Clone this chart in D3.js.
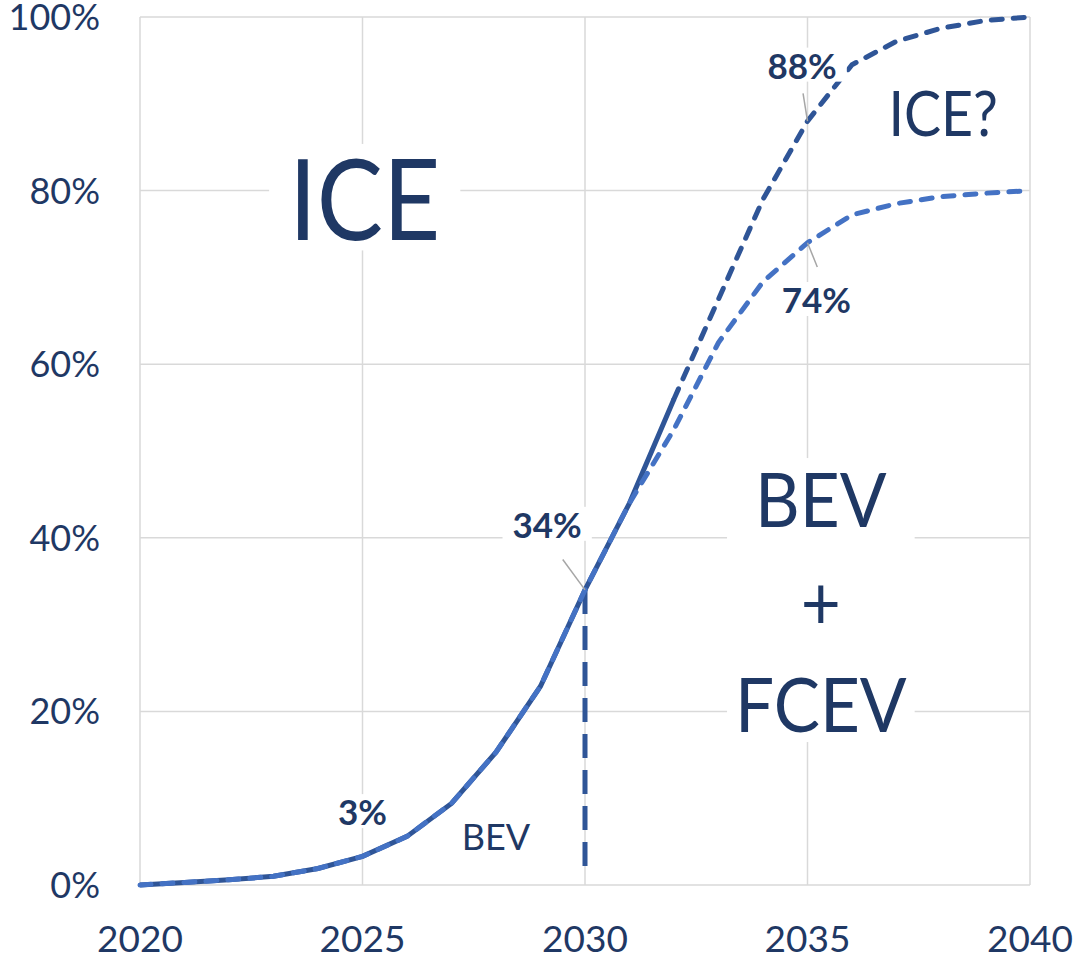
<!DOCTYPE html>
<html>
<head>
<meta charset="utf-8">
<script src="https://cdn.jsdelivr.net/npm/d3@7"></script>
<style>
  body { margin: 0; background: #fff; }
  text { font-family: Lato, "Open Sans", sans-serif; fill: #1F3864; }
</style>
</head>
<body>
<div id="chart"></div>
<script>
// data (share of sales, %)
var years = [2020, 2021, 2022, 2023, 2024, 2025, 2026, 2027, 2028, 2029, 2030,
             2031, 2032, 2033, 2034, 2035, 2036, 2037, 2038, 2039, 2040];
var fullShare  = [0, 0.3, 0.6, 1.0, 1.9, 3.3, 5.6, 9.4, 15.3, 22.9, 34,
                  44, 56, 67.5, 79, 88, 94.5, 97.2, 98.7, 99.6, 100];
var partShare  = [0, 0.3, 0.6, 1.0, 1.9, 3.3, 5.6, 9.4, 15.3, 22.9, 34,
                  44, 52.5, 62.5, 69.5, 74, 77.2, 78.5, 79.3, 79.7, 80];
var solidUntil = 2032;
var markYear = 2030, markFrom = 34, markTo = 2;
var xTicks = [2020, 2025, 2030, 2035, 2040];
var yTicks = [0, 20, 40, 60, 80, 100];

// value labels (label anchor in data units, leader line from l* to p*)
var valueLabels = [
  {text: "3%",  x: 2025,    y: 6.9,  px: null},
  {text: "34%", x: 2029.15, y: 40.0, px: 2030, py: 34, lx: 2029.5, ly: 37.5},
  {text: "88%", x: 2034.88, y: 92.9, px: 2035, py: 88, lx: 2034.9, ly: 91.2},
  {text: "74%", x: 2035.2,  y: 65.9, px: 2035, py: 74, lx: 2035.22, ly: 71.2}
];

var margin = {top: 17, right: 44, bottom: 74, left: 140},
    W = 1074, H = 959,
    width = W - margin.left - margin.right,
    height = H - margin.top - margin.bottom;

var svg = d3.select("#chart").append("svg")
    .attr("width", W).attr("height", H);
var g = svg.append("g")
    .attr("transform", "translate(" + margin.left + "," + margin.top + ")");

var x = d3.scaleLinear().domain([2020, 2040]).range([0, width]);
var y = d3.scaleLinear().domain([0, 100]).range([height, 0]);

// grid
g.selectAll(".vg").data(xTicks).enter().append("line")
  .attr("x1", d => x(d)).attr("x2", d => x(d))
  .attr("y1", 0).attr("y2", height)
  .attr("stroke", "#D9D9D9").attr("stroke-width", 1.5);
g.selectAll(".hg").data(yTicks).enter().append("line")
  .attr("x1", 0).attr("x2", width)
  .attr("y1", d => y(d)).attr("y2", d => y(d))
  .attr("stroke", "#D9D9D9").attr("stroke-width", 1.5);

// axis labels
g.selectAll(".yl").data(yTicks).enter().append("text")
  .attr("x", -40).attr("y", d => y(d))
  .attr("dy", "0.36em")
  .attr("text-anchor", "end")
  .attr("font-size", 36)
  .text(d => d + "%");
g.selectAll(".xl").data(xTicks).enter().append("text")
  .attr("x", d => x(d)).attr("y", height + 67)
  .attr("text-anchor", "middle")
  .attr("font-size", 37)
  .text(d => d);

var line = d3.line().x(d => x(d[0])).y(d => y(d[1]));
var full = years.map((yr, i) => [yr, fullShare[i]]);
var part = years.map((yr, i) => [yr, partShare[i]]);

// dark line: solid part then dashed
g.append("path").datum(full.filter(d => d[0] <= solidUntil))
  .attr("d", line).attr("fill", "none")
  .attr("stroke", "#2F5597").attr("stroke-width", 5);
g.append("path").datum(full.filter(d => d[0] >= solidUntil))
  .attr("d", line).attr("fill", "none")
  .attr("stroke", "#2F5597").attr("stroke-width", 5)
  .attr("stroke-dasharray", "11,11").attr("stroke-linecap", "round");

// vertical marker
g.append("line")
  .attr("x1", x(markYear)).attr("x2", x(markYear))
  .attr("y1", y(markFrom)).attr("y2", y(markTo))
  .attr("stroke", "#2F5597").attr("stroke-width", 5)
  .attr("stroke-dasharray", "24,12");

// light line dashed on top
g.append("path").datum(part)
  .attr("d", line).attr("fill", "none")
  .attr("stroke", "#4472C4").attr("stroke-width", 5)
  .attr("stroke-dasharray", "11,11").attr("stroke-linecap", "round");

// text with white background boxes
function boxedText(lines, cx, base, size, step, padX, padY, weight, squeeze) {
  var grp = g.append("g");
  var rect = grp.append("rect").attr("fill", "#fff");
  var px = x(cx), s = squeeze || 1;
  grp.selectAll("text").data(lines).enter().append("text")
    .attr("x", px).attr("y", (d, i) => y(base) + i * step)
    .attr("text-anchor", "middle")
    .attr("font-size", size)
    .attr("font-weight", weight || "normal")
    .attr("transform", "translate(" + px + ",0) scale(" + s + ",1) translate(" + (-px) + ",0)")
    .text(d => d);
  var bb = grp.node().getBBox();
  rect.attr("x", bb.x - padX).attr("y", bb.y - padY)
    .attr("width", bb.width + 2 * padX).attr("height", bb.height + 2 * padY);
  return grp;
}

// leader lines
valueLabels.filter(d => d.px != null).forEach(function(d) {
  g.append("line")
    .attr("x1", x(d.lx)).attr("y1", y(d.ly))
    .attr("x2", x(d.px)).attr("y2", y(d.py))
    .attr("stroke", "#A6A6A6").attr("stroke-width", 1.5);
});

valueLabels.forEach(function(d) {
  boxedText([d.text], d.x, d.y, 35, 0, 10, -4, "bold");
});

boxedText(["ICE"], 2025.05, 74.3, 112, 0, 20, -14, "normal", 0.885);
boxedText(["ICE?"], 2038.05, 86.3, 61, 0, 8, -4, "normal", 0.91);
boxedText(["BEV", "+", "FCEV"], 2035.3, 41.2, 76, 102.5, 8, -6, "normal", 0.91);
boxedText(["BEV"], 2028.0, 4, 36, 0, 0, -100);
</script>
</body>
</html>
